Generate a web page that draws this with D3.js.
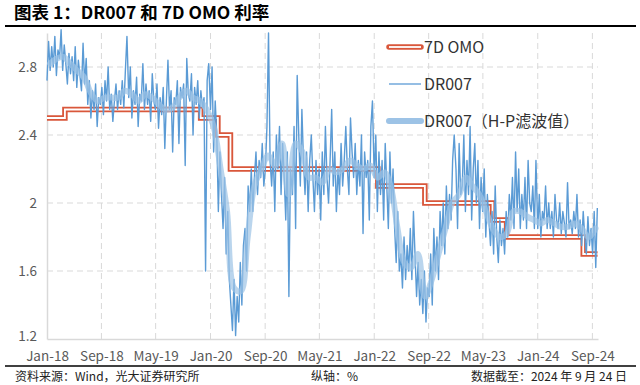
<!DOCTYPE html>
<html>
<head>
<meta charset="utf-8">
<script src="https://cdn.jsdelivr.net/npm/d3@7"></script>
<style>
body { margin: 0; background: #fff; }
svg { display: block; font-family: "Noto Sans CJK SC", "Noto Sans", sans-serif; }
</style>
</head>
<body>
<svg width="640" height="385"></svg>
<script>
// 7D OMO policy rate: change dates and new levels
const omoDates = ["2018-01-01", "2018-03-22", "2019-11-18", "2020-02-03", "2020-03-30",
                  "2022-01-17", "2022-08-15", "2023-06-13", "2023-08-15", "2024-07-22", "2024-09-24"];
const omoRates = [2.50, 2.55, 2.50, 2.40, 2.20, 2.10, 2.00, 1.90, 1.80, 1.70, 1.70];

// DR007, roughly weekly readings, one array per year (starting Jan 1)
const dr2018 = [2.72, 2.95, 2.78, 2.92, 2.80, 2.98, 2.75, 2.90, 2.85, 3.02, 2.78, 2.93, 2.82,
                2.70, 2.88, 2.76, 2.86, 2.72, 2.92, 2.68, 2.84, 2.75, 2.66, 2.94, 2.70, 2.85,
                2.58, 2.72, 2.50, 2.66, 2.55, 2.70, 2.45, 2.62, 2.58, 2.68, 2.52, 2.72, 2.60,
                2.80, 2.55, 2.64, 2.48, 2.60, 2.70, 2.55, 2.66, 2.58, 2.72, 2.56, 2.78, 2.98];
const dr2019 = [2.62, 2.80, 2.50, 2.66, 2.58, 2.74, 2.45, 2.64, 2.60, 2.82, 2.55, 2.70, 2.58,
                2.66, 2.48, 2.76, 2.60, 2.55, 2.70, 2.44, 2.62, 2.52, 2.68, 2.32, 2.60, 2.84,
                2.55, 2.66, 2.30, 2.62, 2.58, 2.72, 2.35, 2.68, 2.62, 2.70, 2.22, 2.85, 2.64,
                2.60, 2.76, 2.40, 2.68, 2.58, 2.72, 2.50, 2.66, 2.56, 2.62, 1.60, 2.72, 2.82];
const dr2020 = [2.55, 2.80, 2.30, 2.60, 2.40, 1.95, 2.30, 2.05, 1.85, 2.15, 1.70, 1.95, 1.55,
                1.40, 1.25, 1.55, 1.22, 1.45, 1.30, 1.65, 1.40, 1.75, 1.85, 1.60, 2.10, 1.95,
                2.20, 1.95, 2.15, 2.30, 2.05, 2.25, 2.15, 2.35, 2.10, 2.20, 2.45, 3.00, 2.25,
                2.10, 2.30, 1.95, 2.40, 2.20, 2.45, 2.05, 2.35, 2.15, 1.90, 2.30, 1.45, 2.20];
const dr2021 = [2.05, 2.45, 1.85, 2.75, 2.40, 2.10, 2.55, 2.25, 2.05, 2.30, 1.95, 2.25, 2.40,
                2.15, 1.95, 2.25, 2.05, 2.20, 1.90, 2.30, 2.05, 2.45, 2.15, 2.00, 2.25, 2.55,
                2.10, 2.30, 1.95, 2.20, 2.05, 2.35, 2.10, 2.25, 2.45, 2.20, 2.05, 2.50, 2.30,
                2.15, 2.35, 2.05, 2.25, 2.10, 2.40, 1.82, 2.30, 2.15, 2.25, 1.90, 2.45, 2.60];
const dr2022 = [2.15, 2.40, 1.95, 2.30, 2.05, 2.25, 1.90, 2.35, 2.10, 1.85, 2.30, 2.00, 2.20,
                1.85, 1.65, 1.95, 1.60, 1.70, 1.50, 1.80, 1.55, 1.75, 1.60, 1.85, 1.55, 1.95,
                1.70, 1.45, 1.65, 1.40, 1.55, 1.35, 1.60, 1.30, 1.50, 1.45, 1.70, 1.40, 1.85,
                1.60, 1.80, 1.55, 1.95, 1.75, 2.00, 1.70, 2.10, 1.85, 2.05, 1.90, 2.25, 2.40];
const dr2023 = [2.20, 1.85, 2.35, 2.05, 2.10, 2.40, 1.95, 2.25, 2.05, 2.45, 1.90, 2.20, 2.35,
                2.00, 2.25, 1.85, 2.15, 1.95, 2.20, 1.80, 2.05, 1.90, 1.75, 1.95, 1.70, 2.10,
                1.80, 1.65, 1.90, 1.75, 1.85, 1.70, 1.95, 1.80, 2.05, 1.90, 2.15, 1.85, 2.30,
                1.95, 2.20, 1.85, 2.05, 1.90, 2.15, 1.85, 2.25, 2.00, 1.95, 2.10, 1.85, 2.25];
const dr2024 = [1.85, 2.05, 1.80, 1.95, 1.90, 2.10, 1.85, 2.00, 1.85, 1.95, 1.80, 2.05, 1.90,
                1.85, 2.00, 1.82, 1.95, 1.88, 1.80, 2.12, 1.85, 1.90, 1.82, 1.95, 1.85, 2.05,
                1.80, 1.90, 1.75, 1.95, 1.80, 1.70, 1.92, 1.75, 1.85, 1.70, 1.95, 1.62, 1.97];

// DR007 H-P filtered trend, monthly (mid-month), Jan 2018 - Sep 2024
const hpValues = [2.82, 2.85, 2.86, 2.82, 2.78, 2.74, 2.65, 2.60, 2.62, 2.62, 2.62, 2.66,
                  2.64, 2.60, 2.64, 2.62, 2.58, 2.55, 2.56, 2.62, 2.66, 2.62, 2.60, 2.55,
                  2.45, 2.20, 1.95, 1.50, 1.48, 1.80, 2.10, 2.20, 2.28, 2.22, 2.35, 2.05,
                  2.35, 2.30, 2.15, 2.15, 2.12, 2.20, 2.18, 2.20, 2.25, 2.22, 2.20, 2.22,
                  2.15, 2.18, 2.10, 1.85, 1.65, 1.62, 1.70, 1.45, 1.55, 1.70, 1.85, 2.00,
                  2.05, 2.15, 2.10, 2.05, 1.95, 1.85, 1.80, 1.82, 1.95, 1.95, 1.92, 1.90,
                  1.88, 1.90, 1.88, 1.86, 1.86, 1.88, 1.85, 1.80, 1.85];

const tickLabels = ["Jan-18", "Sep-18", "May-19", "Jan-20", "Sep-20", "May-21",
                    "Jan-22", "Sep-22", "May-23", "Jan-24", "Sep-24"];
const yTicks = [1.2, 1.6, 2.0, 2.4, 2.8];

const svg = d3.select("svg");
const plot = { left: 47, right: 598, top: 33, bottom: 339 };

const parseDay = d3.timeParse("%Y-%m-%d");
const parseTick = d3.timeParse("%b-%y");

// build series
const drYears = [[2018, dr2018], [2019, dr2019], [2020, dr2020], [2021, dr2021],
                 [2022, dr2022], [2023, dr2023], [2024, dr2024]];
const drData = [];
drYears.forEach(([yr, vals]) => {
    vals.forEach((v, i) => drData.push({ date: d3.timeDay.offset(new Date(yr, 0, 1), i * 7), value: v }));
});
const hpData = hpValues.map((v, i) => ({ date: new Date(2018, i, 15), value: v }));
const omoData = omoDates.map((d, i) => ({ date: parseDay(d), value: omoRates[i] }));

const x = d3.scaleTime()
    .domain([new Date(2018, 0, 1), new Date(2024, 8, 26)])
    .range([plot.left, plot.right]);
const y = d3.scaleLinear()
    .domain([1.2, 3.0])
    .range([plot.bottom, plot.top]);

const tickDates = tickLabels.map(parseTick);

// grid lines
svg.append("g")
    .selectAll("line")
    .data(yTicks.slice(1))
    .join("line")
    .attr("x1", plot.left).attr("x2", plot.right)
    .attr("y1", d => y(d)).attr("y2", d => y(d))
    .attr("stroke", "#d9d9d9").attr("stroke-dasharray", "6,4");
svg.append("g")
    .selectAll("line")
    .data(tickDates.slice(1))
    .join("line")
    .attr("x1", d => x(d)).attr("x2", d => x(d))
    .attr("y1", plot.top).attr("y2", plot.bottom)
    .attr("stroke", "#d9d9d9").attr("stroke-dasharray", "6,4");

// axes
const xAxis = svg.append("g")
    .attr("transform", `translate(0, ${plot.bottom})`)
    .call(d3.axisBottom(x).tickValues(tickDates).tickSize(0)
        .tickFormat((d, i) => tickLabels[i]).tickPadding(12));
xAxis.select(".domain").attr("stroke", "#d9d9d9").attr("stroke-width", 1.5);
xAxis.selectAll("text").attr("font-size", 13.5).attr("fill", "#595959")
    .attr("font-family", "'Noto Sans CJK SC', sans-serif");

const yAxis = svg.append("g")
    .attr("transform", `translate(${plot.left}, 0)`)
    .call(d3.axisLeft(y).tickValues(yTicks).tickSize(0).tickPadding(10)
        .tickFormat(d => d3.format("~g")(d)));
yAxis.select(".domain").attr("stroke", "#d9d9d9").attr("stroke-width", 1.5);
yAxis.selectAll("text").attr("font-size", 13.5).attr("fill", "#595959")
    .attr("font-family", "'Noto Sans CJK SC', sans-serif");
// lift the bottom y label a little so it clears "Jan-18"
yAxis.selectAll(".tick").filter(d => d === 1.2).select("text").attr("dy", "0.1em");

// 7D OMO (double line look)
const omoLine = d3.line().x(d => x(d.date)).y(d => y(d.value)).curve(d3.curveStepAfter);
svg.append("path").datum(omoData)
    .attr("fill", "none").attr("stroke", "#D9573B").attr("stroke-width", 5.5)
    .attr("d", omoLine);
svg.append("path").datum(omoData)
    .attr("fill", "none").attr("stroke", "#fff").attr("stroke-width", 1.8)
    .attr("d", omoLine);

// DR007
const line = d3.line().x(d => x(d.date)).y(d => y(d.value));
svg.append("path").datum(drData)
    .attr("fill", "none").attr("stroke", "#5B9BD5").attr("stroke-width", 1.4)
    .attr("stroke-linejoin", "round")
    .attr("d", line);

// H-P trend
svg.append("path").datum(hpData)
    .attr("fill", "none").attr("stroke", "#9DC3E6").attr("stroke-width", 6)
    .attr("stroke-opacity", 0.7).attr("stroke-linecap", "round")
    .attr("d", line.curve(d3.curveCatmullRom));

// legend
const legend = svg.append("g").attr("font-size", 16).attr("fill", "#333");
legend.append("line").attr("x1", 389).attr("x2", 421).attr("y1", 47).attr("y2", 47)
    .attr("stroke", "#D9573B").attr("stroke-width", 5.5).attr("stroke-linecap", "round");
legend.append("line").attr("x1", 389).attr("x2", 421).attr("y1", 47).attr("y2", 47)
    .attr("stroke", "#fff").attr("stroke-width", 1.8);
legend.append("line").attr("x1", 389).attr("x2", 421).attr("y1", 84).attr("y2", 84)
    .attr("stroke", "#5B9BD5").attr("stroke-width", 1.3);
legend.append("line").attr("x1", 389).attr("x2", 421).attr("y1", 121).attr("y2", 121)
    .attr("stroke", "#9DC3E6").attr("stroke-width", 6).attr("stroke-linecap", "round");
legend.append("text").attr("x", 424).attr("y", 53).text("7D OMO");
legend.append("text").attr("x", 424).attr("y", 90).text("DR007");
legend.append("text").attr("x", 424).attr("y", 127).text("DR007（H-P滤波值）");

// title and footer
svg.append("text").attr("x", 14).attr("y", 19)
    .attr("font-size", 17.5).attr("font-weight", "bold").attr("fill", "#000")
    .text("图表 1：DR007 和 7D OMO 利率");
svg.append("line").attr("x1", 5).attr("x2", 636).attr("y1", 26).attr("y2", 26)
    .attr("stroke", "#000").attr("stroke-width", 2);
svg.append("line").attr("x1", 5).attr("x2", 636).attr("y1", 366).attr("y2", 366)
    .attr("stroke", "#000").attr("stroke-width", 1.5);

const foot = svg.append("g").attr("font-size", 12).attr("fill", "#222");
foot.append("text").attr("x", 15).attr("y", 381).text("资料来源：Wind，光大证券研究所");
foot.append("text").attr("x", 311).attr("y", 381).text("纵轴：%");
foot.append("text").attr("x", 627).attr("y", 381).attr("text-anchor", "end")
    .text("数据截至：2024 年 9 月 24 日");
</script>
</body>
</html>
